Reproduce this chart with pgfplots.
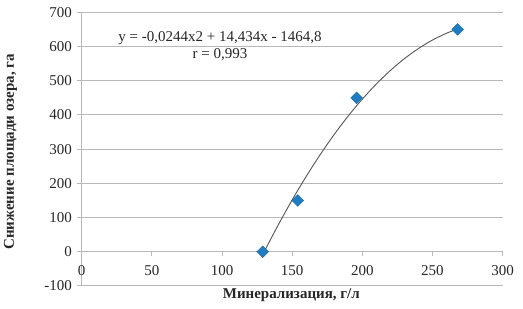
\documentclass[border=0pt]{standalone}
\usepackage{fontspec}
\setmainfont{Liberation Serif}
\usepackage{pgfplots}
\pgfplotsset{compat=1.18}
\definecolor{markblue}{HTML}{1F7EC2}
\definecolor{gridgray}{HTML}{B8B8B8}
\begin{document}
\fontsize{11.25pt}{13pt}\selectfont
\begin{tikzpicture}
\useasboundingbox (0,0) rectangle (392.25pt,231.75pt);
\begin{axis}[
  at={(61.3pt,17.25pt)}, anchor=south west,
  scale only axis, width=315.6pt, height=205.3pt,
  xmin=0, xmax=300, ymin=-100, ymax=700,
  xtick={0,50,...,300}, ytick={-100,0,...,700},
  axis x line*=middle, axis y line*=left,
  axis line style={gridgray, line width=0.75pt, -},
  ymajorgrids, grid style={gridgray, line width=0.75pt},
  tick align=outside, major tick length=3.5pt,
  tick style={gridgray, line width=0.75pt},
  hide obscured x ticks=false,
  /pgf/number format/assume math mode=true,
  /pgf/number format/use comma,
  ticklabel style={font=\fontsize{11.25pt}{13pt}\selectfont, text=black!85},
  xticklabel style={yshift=-3pt},
  clip=false,
]
\addplot[smooth, color=black!65, line width=0.7pt] coordinates {
(129,-8.85) (135,39.1) (140,77.7) (145,115.1) (150,151.3) (155,186.3)
(160,220.0) (165,252.5) (170,283.8) (175,313.9) (180,342.8) (185,370.4)
(190,396.8) (195,422.0) (200,446.0) (210,490.3) (220,529.7) (230,564.3)
(240,593.9) (250,618.7) (260,638.6) (268,651.0)};
\addplot[only marks, mark=square*, mark size=3.1pt,
  mark options={rotate=45, fill=markblue, draw=markblue!80!black, line width=0.3pt}]
  coordinates {(129,0) (154,150) (196,450) (268,650)};
\node[font=\fontsize{11.25pt}{13pt}\selectfont, text=black!85] at (axis cs:98.6,625) {y = -0,0244x2 + 14,434x - 1464,8};
\node[font=\fontsize{11.25pt}{13pt}\selectfont, text=black!85] at (axis cs:98.6,575) {r = 0,993};
\end{axis}
\node[rotate=90, font=\bfseries\fontsize{11.25pt}{13pt}\selectfont, text=black!85] at (7.8pt,118pt) {Снижение площади озера, га};
\node[font=\bfseries\fontsize{11.25pt}{13pt}\selectfont, text=black!85] at (218.5pt,10.5pt) {Минерализация, г/л};
\end{tikzpicture}
\end{document}
